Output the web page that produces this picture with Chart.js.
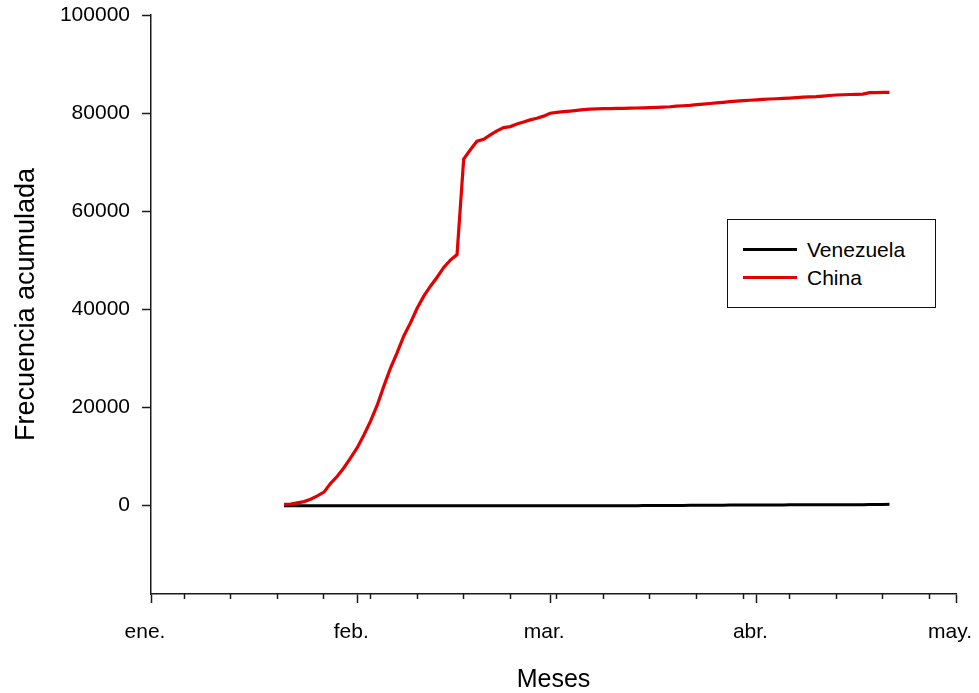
<!DOCTYPE html>
<html>
<head>
<meta charset="utf-8">
<script src="https://cdn.jsdelivr.net/npm/chart.js@4.4.1/dist/chart.umd.min.js"></script>
<style>
  html, body { margin: 0; padding: 0; background: #ffffff; }
  #wrap { position: relative; width: 979px; height: 693px; }
  #chart { position: absolute; left: 0; top: 0; }
  #legend {
    position: absolute; left: 727px; top: 219px; width: 209px; height: 89px;
    box-sizing: border-box; border: 1.5px solid #111; background: #fff;
    font-family: "Liberation Sans", Arial, sans-serif; font-size: 21px; color: #000;
  }
  .item { position: absolute; left: 0; height: 24px; line-height: 24px; white-space: nowrap; }
  .swatch { position: absolute; left: 15px; top: 10px; width: 54px; height: 3px; }
  .label { position: absolute; left: 79px; top: 0; }
</style>
</head>
<body>
<div id="wrap">
  <canvas id="chart" width="979" height="693"></canvas>
  <div id="legend"></div>
</div>
<script>
// ---- data (days counted from 1 Jan 2020; day 20 = 21 Jan) ----
const days = [20,21,22,23,24,25,26,27,28,29,30,31,32,33,34,35,36,37,38,39,40,41,42,43,44,45,46,47,48,49,
  50,51,52,53,54,55,56,57,58,59,60,61,62,63,64,65,66,67,68,69,70,71,72,73,74,75,76,77,78,79,
  80,81,82,83,84,85,86,87,88,89,90,91,92,93,94,95,96,97,98,99,100,101,102,103,104,105,106,107,108,109,110,111];

const venezuela = [0,0,0,0,0,0,0,0,0,0,0,0,0,0,0,0,0,0,0,0,0,0,0,0,0,0,0,0,0,0,
  0,0,0,0,0,0,0,0,0,0,0,0,0,0,0,0,0,0,0,0,0,0,2,10,17,33,33,36,36,42,
  42,70,77,84,91,106,107,119,119,135,135,143,146,153,155,159,165,167,171,171,175,181,181,189,193,197,204,204,227,256,256,285];

const china = [278,310,570,830,1300,1990,2760,4540,6000,7740,9720,11820,14410,17240,20470,24360,28060,31210,34600,37250,
  40240,42710,44730,46550,48550,50050,51170,70640,72530,74280,74680,75570,76390,77040,77260,77780,78190,78630,78960,79390,
  79970,80170,80300,80420,80570,80710,80810,80860,80900,80920,80960,80980,81020,81050,81080,81120,81170,81240,81300,81420,
  81500,81600,81750,81850,81960,82080,82210,82340,82450,82550,82630,82720,82800,82880,82930,83010,83070,83160,83250,83310,
  83370,83480,83600,83700,83750,83800,83840,83870,84180,84200,84240,84250];

const seriesNames = ['Venezuela', 'China'];
const seriesColors = ['#000000', '#e30000'];

const monthTicks = [0, 31, 60, 91, 121];
const monthLabels = ['ene.', 'feb.', 'mar.', 'abr.', 'may.'];
const weekTicks = [5, 12, 19, 26, 33, 40, 47, 54, 61, 68, 75, 82, 89, 96, 103, 110, 117];
const yTicks = [0, 20000, 40000, 60000, 80000, 100000];

const FONT = '"Liberation Sans", Arial, sans-serif';
const AXIS = '#1a1a1a';

const toPoints = (vals) => days.map((d, i) => ({ x: d, y: vals[i] }));
const noPad = (s) => { s.paddingLeft = 0; s.paddingRight = 0; s.paddingTop = 0; s.paddingBottom = 0; };

const chart = new Chart(document.getElementById('chart').getContext('2d'), {
  type: 'line',
  data: {
    datasets: [
      { label: seriesNames[0], data: toPoints(venezuela), borderColor: seriesColors[0], borderWidth: 3,
        pointRadius: 0, tension: 0, fill: false, order: 1 },
      { label: seriesNames[1], data: toPoints(china), borderColor: seriesColors[1], borderWidth: 3.2,
        pointRadius: 0, tension: 0, fill: false, order: 0 }
    ]
  },
  options: {
    responsive: false,
    animation: false,
    events: [],
    layout: { padding: { top: 15, right: 23, bottom: 0, left: 0 } },
    plugins: { legend: { display: false }, tooltip: { enabled: false } },
    scales: {
      x: {
        type: 'linear', position: 'bottom', min: 0, max: 121,
        afterBuildTicks: (s) => { s.ticks = monthTicks.map(v => ({ value: v })); },
        afterFit: (s) => { s.height = 99; noPad(s); },
        ticks: {
          autoSkip: false, maxRotation: 0, padding: 17, labelOffset: -6, color: '#000',
          font: { family: FONT, size: 21 },
          callback: (v) => monthLabels[monthTicks.indexOf(v)]
        },
        grid: { drawOnChartArea: false, drawTicks: true, tickLength: 9, tickColor: AXIS, tickWidth: 1.5 },
        border: { display: true, color: AXIS, width: 1.5 },
        title: { display: true, text: 'Meses', color: '#000', font: { family: FONT, size: 25 },
          padding: { top: 0, bottom: -2 } }
      },
      x2: {
        type: 'linear', position: { y: -18000 }, min: 0, max: 121,
        afterBuildTicks: (s) => { s.ticks = weekTicks.map(v => ({ value: v })); },
        afterFit: (s) => { noPad(s); },
        ticks: { autoSkip: false, maxRotation: 0, callback: () => '' },
        grid: { drawOnChartArea: false, drawTicks: true, tickLength: 5, tickColor: AXIS, tickWidth: 1.5 },
        border: { display: false }
      },
      y: {
        type: 'linear', position: 'left', min: -18000, max: 100000,
        afterBuildTicks: (s) => { s.ticks = yTicks.map(v => ({ value: v })); },
        afterFit: (s) => { s.width = 151; noPad(s); },
        ticks: { padding: 12, color: '#000', font: { family: FONT, size: 21 }, callback: (v) => String(v) },
        grid: { drawOnChartArea: false, drawTicks: true, tickLength: 9, tickColor: AXIS, tickWidth: 1.5 },
        border: { display: true, color: AXIS, width: 1.5 },
        title: { display: true, text: 'Frecuencia acumulada', color: '#000', font: { family: FONT, size: 27 },
          padding: { top: 10, bottom: 0 } }
      }
    }
  }
});

// HTML legend built from the dataset definitions
const legend = document.getElementById('legend');
const rowTops = [18, 46];
chart.data.datasets.forEach((ds, i) => {
  const item = document.createElement('div');
  item.className = 'item';
  item.style.top = rowTops[i] + 'px';
  const sw = document.createElement('span');
  sw.className = 'swatch';
  sw.style.background = ds.borderColor;
  const lb = document.createElement('span');
  lb.className = 'label';
  lb.textContent = ds.label;
  item.appendChild(sw); item.appendChild(lb);
  legend.appendChild(item);
});
</script>
</body>
</html>
